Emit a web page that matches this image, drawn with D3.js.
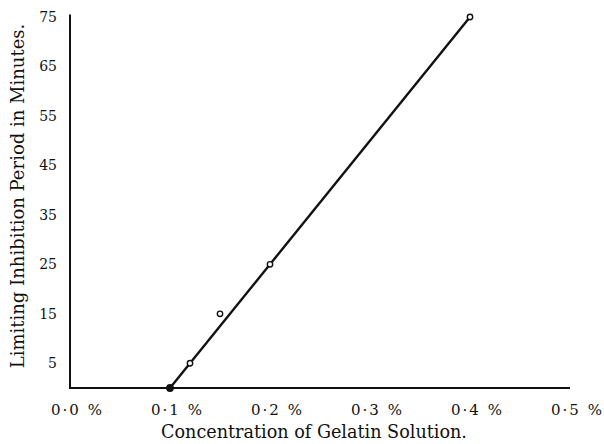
<!DOCTYPE html>
<html>
<head>
<meta charset="utf-8">
<script src="https://cdn.jsdelivr.net/npm/d3@7"></script>
<style>
  body { margin: 0; background: #fff; }
  text { font-family: "DejaVu Serif", "Liberation Serif", serif; fill: #111; }
</style>
</head>
<body>
<div id="chart"></div>
<script>
// observed points (concentration %, inhibition period in minutes)
var concentration = [0.1, 0.12, 0.15, 0.2, 0.4];
var period = [0, 5, 15, 25, 75];

// straight line drawn through the points
var lineConc = [0.1, 0.4];
var linePeriod = [0, 75];

var xTicks = [0, 0.1, 0.2, 0.3, 0.4, 0.5];
var xTickLabels = ["0·0 %", "0·1 %", "0·2 %", "0·3 %", "0·4 %", "0·5 %"];
var yTicks = [5, 15, 25, 35, 45, 55, 65, 75];

var width = 604, height = 444;

var svg = d3.select("#chart")
  .append("svg")
    .attr("width", width)
    .attr("height", height);

var x = d3.scaleLinear()
  .domain([0, 0.5])
  .range([70, 570]);

var y = d3.scaleLinear()
  .domain([0, 75])
  .range([388, 17]);

// axes, no tick marks, just the labels
var xAxis = d3.axisBottom(x)
  .tickValues(xTicks)
  .tickSize(0)
  .tickPadding(0)
  .tickFormat(function(d, i) { return xTickLabels[i]; });

var gx = svg.append("g")
  .attr("transform", "translate(0," + y(0) + ")")
  .call(xAxis);
gx.select(".domain").remove();
gx.selectAll("text")
  .attr("x", 7)
  .attr("y", 22)
  .attr("dy", "0.32em")
  .style("font-size", "15px")
  .style("letter-spacing", "2px")
  .style("font-family", "'DejaVu Serif', serif");

var yAxis = d3.axisLeft(y)
  .tickValues(yTicks)
  .tickSize(0)
  .tickPadding(13);

var gy = svg.append("g")
  .attr("transform", "translate(" + x(0) + ",0)")
  .call(yAxis);
gy.select(".domain").remove();
gy.selectAll("text")
  .style("font-size", "14px")
  .style("font-family", "'DejaVu Serif', serif");

// axis lines
svg.append("line")
  .attr("x1", x(0)).attr("x2", x(0))
  .attr("y1", y(0) + 1).attr("y2", y(75.5))
  .attr("stroke", "#111")
  .attr("stroke-width", 2);

svg.append("line")
  .attr("x1", x(0)).attr("x2", x(0.5))
  .attr("y1", y(0)).attr("y2", y(0))
  .attr("stroke", "#111")
  .attr("stroke-width", 2);

// fitted line
var line = d3.line()
  .x(function(d, i) { return x(lineConc[i]); })
  .y(function(d) { return y(d); });

svg.append("path")
  .datum(linePeriod)
  .attr("d", line)
  .attr("fill", "none")
  .attr("stroke", "#111")
  .attr("stroke-width", 2.4);

// points: the one on the axis is a solid dot, the rest open circles
svg.selectAll(".pt")
  .data(period)
  .enter().append("circle")
    .attr("class", "pt")
    .attr("cx", function(d, i) { return x(concentration[i]); })
    .attr("cy", function(d) { return y(d); })
    .attr("r", function(d) { return d === 0 ? 3.2 : 2.7; })
    .attr("fill", function(d) { return d === 0 ? "#111" : "#fff"; })
    .attr("stroke", "#111")
    .attr("stroke-width", 1.4);

// axis titles
svg.append("text")
  .attr("x", 314)
  .attr("y", 438)
  .attr("text-anchor", "middle")
  .style("font-size", "17.6px")
  .text("Concentration of Gelatin Solution.");

svg.append("text")
  .attr("transform", "translate(24,196) rotate(-90)")
  .attr("text-anchor", "middle")
  .style("font-size", "18px")
  .text("Limiting Inhibition Period in Minutes.");
</script>
</body>
</html>
